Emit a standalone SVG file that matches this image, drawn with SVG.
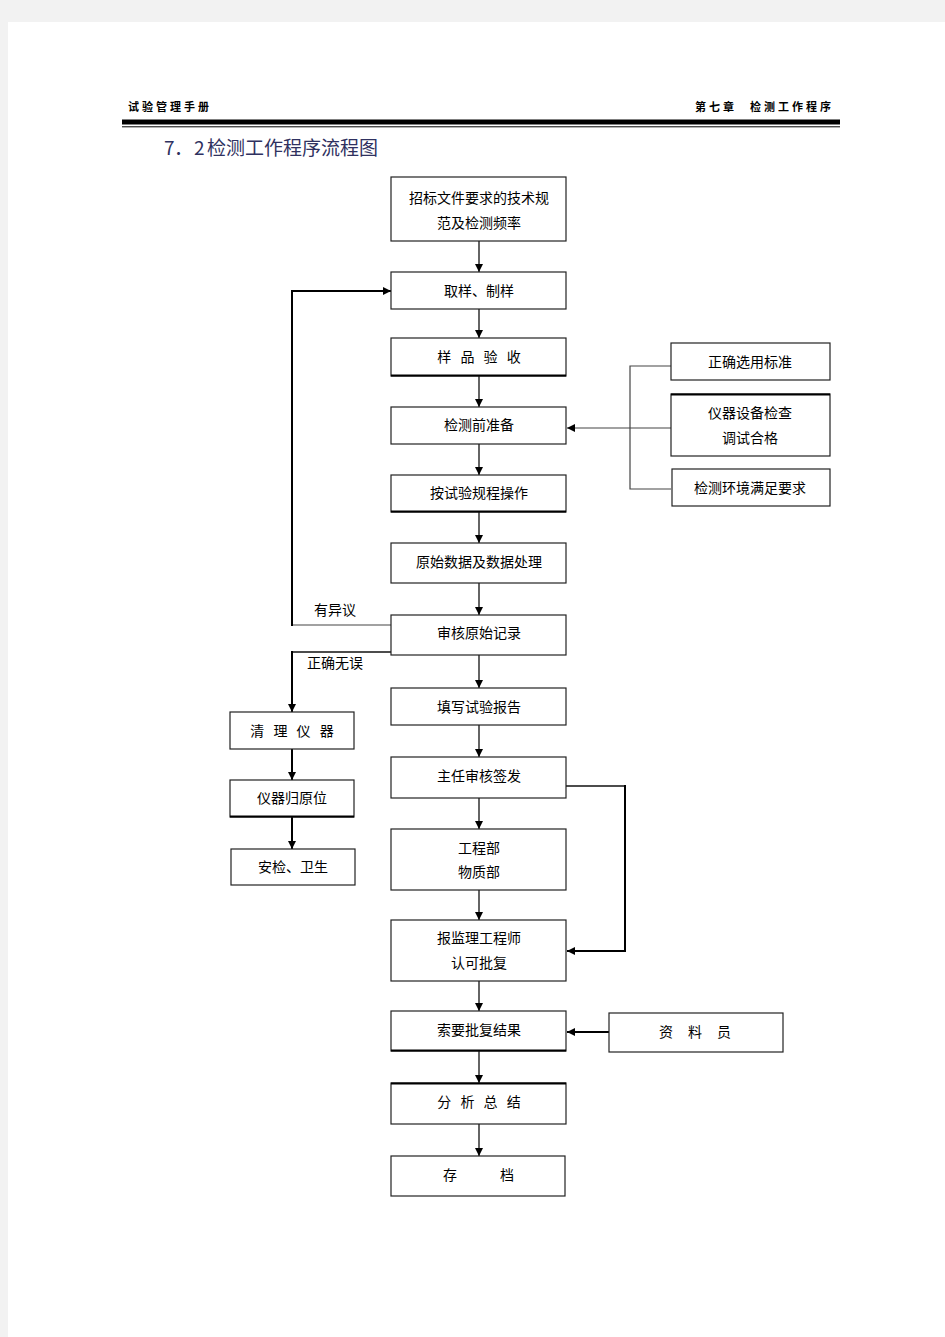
<svg xmlns="http://www.w3.org/2000/svg" width="945" height="1337" viewBox="0 0 945 1337">
<defs>
<marker id="ah" viewBox="0 0 10 10" refX="10" refY="5" markerWidth="8" markerHeight="8" markerUnits="userSpaceOnUse" orient="auto">
<path d="M0,0 L10,5 L0,10 z" fill="#000"/>
</marker>
</defs>
<style>
.box{fill:#fff;stroke:#222;stroke-width:1.2}
.t{font-family:"Noto Sans CJK SC","Liberation Sans",sans-serif;font-size:14px;fill:#000;text-anchor:middle}
.lbl{font-family:"Noto Sans CJK SC","Liberation Sans",sans-serif;font-size:14px;fill:#000}
.hd{font-family:"Noto Sans CJK SC",sans-serif;font-size:11px;font-weight:bold;fill:#000;letter-spacing:3px}
.ln{fill:none;stroke:#111;stroke-width:1.3}
.thick{fill:none;stroke:#000;stroke-width:2}
.br{fill:none;stroke:#444;stroke-width:1.2}
.edge{stroke:#000;stroke-width:2}
.sp{word-spacing:6px}
</style>
<rect x="0" y="0" width="945" height="1337" fill="#f2f2f2"/>
<rect x="8" y="22" width="937" height="1315" fill="#fff"/>
<g id="header">
<text class="hd" x="128" y="111">试验管理手册</text>
<text class="hd" x="695" y="111">第七章<tspan x="750">检测工作程序</tspan></text>
<rect x="122" y="119.5" width="718" height="5" fill="#000"/>
<rect x="122" y="126.3" width="718" height="1" fill="#000"/>
<text x="164" y="155" font-family="Noto Sans CJK SC,sans-serif" font-size="19" fill="#2f3160">7<tspan x="174">．</tspan><tspan x="194">2</tspan><tspan x="207">检测工作程序流程图</tspan></text>
</g>
<g id="connectors">
<line class="ln" x1="479" y1="241" x2="479" y2="272" marker-end="url(#ah)"/>
<line class="ln" x1="479" y1="309" x2="479" y2="338" marker-end="url(#ah)"/>
<line class="ln" x1="479" y1="376" x2="479" y2="407" marker-end="url(#ah)"/>
<line class="ln" x1="479" y1="444" x2="479" y2="475" marker-end="url(#ah)"/>
<line class="ln" x1="479" y1="512" x2="479" y2="543" marker-end="url(#ah)"/>
<line class="ln" x1="479" y1="583" x2="479" y2="615" marker-end="url(#ah)"/>
<line class="ln" x1="479" y1="655" x2="479" y2="688" marker-end="url(#ah)"/>
<line class="ln" x1="479" y1="725" x2="479" y2="757" marker-end="url(#ah)"/>
<line class="ln" x1="479" y1="798" x2="479" y2="829" marker-end="url(#ah)"/>
<line class="ln" x1="479" y1="890" x2="479" y2="920" marker-end="url(#ah)"/>
<line class="ln" x1="479" y1="981" x2="479" y2="1011" marker-end="url(#ah)"/>
<line class="ln" x1="479" y1="1051" x2="479" y2="1083" marker-end="url(#ah)"/>
<line class="ln" x1="479" y1="1124" x2="479" y2="1156" marker-end="url(#ah)"/>
<polyline class="br" points="671,366 630,366 630,489 671,489"/>
<line class="br" x1="671" y1="428" x2="567" y2="428" marker-end="url(#ah)"/>
<polyline class="br" points="391,625 292,625"/>
<polyline class="thick" points="292,626 292,291 391,291" marker-end="url(#ah)"/>
<polyline class="ln" points="391,652 292,652"/>
<polyline class="thick" points="292,651 292,712" marker-end="url(#ah)"/>
<line class="thick" x1="292" y1="749" x2="292" y2="780" marker-end="url(#ah)"/>
<line class="thick" x1="292" y1="817" x2="292" y2="849" marker-end="url(#ah)"/>
<polyline class="ln" points="566,786 625,786"/>
<polyline class="thick" points="625,785 625,951 567,951" marker-end="url(#ah)"/>
<line class="thick" x1="609" y1="1032" x2="567" y2="1032" marker-end="url(#ah)"/>
<text class="lbl" x="314" y="615">有异议</text>
<text class="lbl" x="307" y="668">正确无误</text>
</g>
<g id="n1"><rect class="box" x="391" y="177" width="175" height="64"/><text class="t" x="479" y="203">招标文件要求的技术规</text><text class="t" x="479" y="228">范及检测频率</text></g>
<g id="n2"><rect class="box" x="391" y="272" width="175" height="37"/><text class="t" x="479" y="296">取样、制样</text></g>
<g id="n3"><rect class="box" x="391" y="338" width="175" height="38"/><line class="edge" x1="391" y1="375.5" x2="566" y2="375.5"/><text class="t sp" x="479" y="362">样 品 验 收</text></g>
<g id="n4"><rect class="box" x="391" y="407" width="175" height="37"/><text class="t" x="479" y="430">检测前准备</text></g>
<g id="n5"><rect class="box" x="391" y="475" width="175" height="37"/><line class="edge" x1="391" y1="511.5" x2="566" y2="511.5"/><text class="t" x="479" y="498">按试验规程操作</text></g>
<g id="n6"><rect class="box" x="391" y="543" width="175" height="40"/><text class="t" x="479" y="567">原始数据及数据处理</text></g>
<g id="n7"><rect class="box" x="391" y="615" width="175" height="40"/><text class="t" x="479" y="638">审核原始记录</text></g>
<g id="n8"><rect class="box" x="391" y="688" width="175" height="37"/><text class="t" x="479" y="712">填写试验报告</text></g>
<g id="n9"><rect class="box" x="391" y="757" width="175" height="41"/><text class="t" x="479" y="781">主任审核签发</text></g>
<g id="n10"><rect class="box" x="391" y="829" width="175" height="61"/><text class="t" x="479" y="853">工程部</text><text class="t" x="479" y="877">物质部</text></g>
<g id="n11"><rect class="box" x="391" y="920" width="175" height="61"/><text class="t" x="479" y="943">报监理工程师</text><text class="t" x="479" y="968">认可批复</text></g>
<g id="n12"><rect class="box" x="391" y="1011" width="175" height="40"/><line class="edge" x1="391" y1="1050.5" x2="566" y2="1050.5"/><text class="t" x="479" y="1035">索要批复结果</text></g>
<g id="n13"><rect class="box" x="391" y="1083" width="175" height="41"/><line class="edge" x1="391" y1="1083.5" x2="566" y2="1083.5"/><text class="t sp" x="479" y="1107">分 析 总 结</text></g>
<g id="n14"><rect class="box" x="391" y="1156" width="174" height="40"/><text class="lbl" x="443" y="1180">存 <tspan x="500">档</tspan></text></g>
<g id="r1"><rect class="box" x="671" y="343" width="159" height="37"/><text class="t" x="750" y="367">正确选用标准</text></g>
<g id="r2"><rect class="box" x="671" y="394" width="159" height="62"/><line class="edge" x1="671" y1="394.5" x2="830" y2="394.5"/><text class="t" x="750" y="418">仪器设备检查</text><text class="t" x="750" y="443">调试合格</text></g>
<g id="r3"><rect class="box" x="672" y="469" width="158" height="37"/><text class="t" x="750" y="493">检测环境满足要求</text></g>
<g id="s1"><rect class="box" x="609" y="1013" width="174" height="39"/><text class="lbl" x="659" y="1037">资 <tspan x="688">料</tspan> <tspan x="717">员</tspan></text></g>
<g id="l1"><rect class="box" x="230" y="712" width="124" height="37"/><text class="t sp" x="292" y="736">清 理 仪 器</text></g>
<g id="l2"><rect class="box" x="230" y="780" width="124" height="37"/><line class="edge" x1="230" y1="816.5" x2="354" y2="816.5"/><text class="t" x="292" y="803">仪器归原位</text></g>
<g id="l3"><rect class="box" x="231" y="849" width="124" height="36"/><text class="t" x="293" y="872">安检、卫生</text></g>
</svg>
